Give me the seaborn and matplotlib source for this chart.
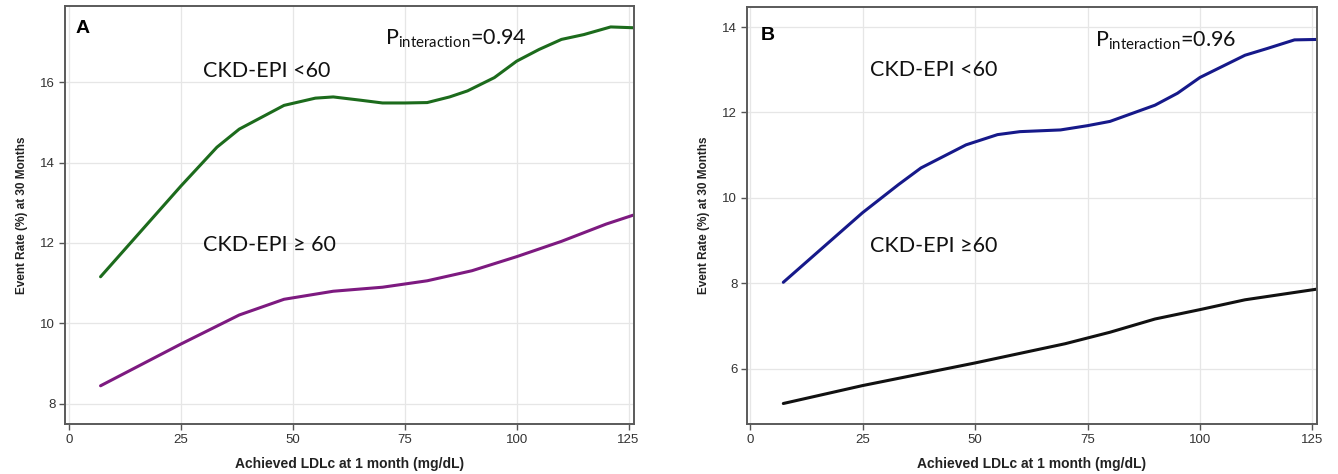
import matplotlib
matplotlib.use("Agg")
import matplotlib.pyplot as plt
import seaborn as sns
import pandas as pd

# ---- data ----
ldl_a_low = [7, 25, 33, 38, 48, 55, 59, 65, 70, 75, 80, 85, 89, 95, 100, 105, 110, 115, 121, 126]
rate_a_low = [11.16, 13.42, 14.38, 14.83, 15.42, 15.60, 15.63, 15.55, 15.48, 15.48, 15.49, 15.63,
              15.78, 16.11, 16.52, 16.81, 17.06, 17.18, 17.37, 17.35]
ldl_a_high = [7, 25, 38, 48, 59, 70, 80, 90, 100, 110, 120, 126]
rate_a_high = [8.45, 9.49, 10.21, 10.60, 10.80, 10.90, 11.06, 11.31, 11.66, 12.04, 12.47, 12.69]

ldl_b_low = [7.4, 25, 33, 38, 48, 55, 60, 69, 75, 80, 90, 95, 100, 110, 115, 121, 126]
rate_b_low = [8.02, 9.65, 10.31, 10.70, 11.24, 11.48, 11.55, 11.59, 11.69, 11.79, 12.17, 12.45, 12.82,
              13.34, 13.50, 13.70, 13.71]
ldl_b_high = [7.4, 25, 50, 70, 80, 90, 100, 110, 126]
rate_b_high = [5.18, 5.60, 6.13, 6.58, 6.85, 7.16, 7.38, 7.61, 7.86]

x_ticks = [0, 25, 50, 75, 100, 125]
a_yticks = [8, 10, 12, 14, 16]
b_yticks = [6, 8, 10, 12, 14]
group_labels = ["CKD-EPI <60", "CKD-EPI \u2265 60"]
b_group_labels = ["CKD-EPI <60", "CKD-EPI \u226560"]

df_a = pd.DataFrame({
    "ldl": ldl_a_low + ldl_a_high,
    "rate": rate_a_low + rate_a_high,
    "group": [group_labels[0]] * len(ldl_a_low) + [group_labels[1]] * len(ldl_a_high),
})
df_b = pd.DataFrame({
    "ldl": ldl_b_low + ldl_b_high,
    "rate": rate_b_low + rate_b_high,
    "group": [b_group_labels[0]] * len(ldl_b_low) + [b_group_labels[1]] * len(ldl_b_high),
})

sns.set_theme(style="whitegrid")
plt.rcParams["font.family"] = ["Liberation Sans", "DejaVu Sans"]
plt.rcParams["mathtext.fontset"] = "custom"
plt.rcParams["mathtext.rm"] = "Lato"
plt.rcParams["mathtext.it"] = "Lato:italic"

fig = plt.figure(figsize=(13.38, 4.74), dpi=100)
ax_a = fig.add_axes([0.0486, 0.1055, 0.4252, 0.8818])
ax_b = fig.add_axes([0.5583, 0.1055, 0.4260, 0.8797])

sns.lineplot(data=df_a, x="ldl", y="rate", hue="group",
             palette={group_labels[0]: "#1c6b1c", group_labels[1]: "#7d1a80"},
             linewidth=2.2, legend=False, ax=ax_a)
sns.lineplot(data=df_b, x="ldl", y="rate", hue="group",
             palette={b_group_labels[0]: "#16198a", b_group_labels[1]: "#111111"},
             linewidth=2.2, legend=False, ax=ax_b)

ax_a.set_xlim(-0.94, 126.2)
ax_a.set_ylim(7.5, 17.89)
ax_b.set_xlim(-0.67, 126.0)
ax_b.set_ylim(4.70, 14.47)

for ax, yt in ((ax_a, a_yticks), (ax_b, b_yticks)):
    ax.set_xticks(x_ticks)
    ax.set_yticks(yt)
    ax.set_xticklabels([str(t) for t in x_ticks])
    ax.set_yticklabels([str(t) for t in yt])
    ax.grid(True, color="#e6e6e6", linewidth=0.9)
    ax.set_facecolor("white")
    for s in ax.spines.values():
        s.set_color("#5a5a5a")
        s.set_linewidth(1.4)
    ax.tick_params(axis="both", direction="out", length=4, width=1, color="#555555",
                   labelsize=9.5, labelcolor="#333333", pad=3,
                   bottom=True, left=True)
    ax.set_xlabel("Achieved LDLc at 1 month (mg/dL)", fontsize=10, fontweight="bold",
                  color="#222222", labelpad=8)
    ax.set_ylabel("Event Rate (%) at 30 Months", fontsize=8.5, fontweight="bold",
                  color="#222222", labelpad=9)

ann_font = ["Lato", "DejaVu Sans"]
# Panel A annotations
ax_a.text(1.5, 17.22, "A", fontsize=14, fontweight="bold", family=["Liberation Sans"], color="black")
ax_a.text(70.5, 16.92, r"$\mathrm{P_{interaction}}$=0.94", fontsize=15.5, family=ann_font,
          va="baseline", color="#111111")
ax_a.text(29.9, 16.12, group_labels[0], fontsize=15.5, family=ann_font, va="baseline", color="#111111")
ax_a.text(29.9, 11.80, group_labels[1], fontsize=15.5, family=ann_font, va="baseline", color="#111111")

# Panel B annotations
ax_b.text(2.4, 13.70, "B", fontsize=14, fontweight="bold", family=["Liberation Sans"], color="black")
ax_b.text(76.7, 13.55, r"$\mathrm{P_{interaction}}$=0.96", fontsize=15.5, family=ann_font,
          va="baseline", color="#111111")
ax_b.text(26.7, 12.85, b_group_labels[0], fontsize=15.5, family=ann_font, va="baseline", color="#111111")
ax_b.text(26.7, 8.73, b_group_labels[1], fontsize=15.5, family=ann_font, va="baseline", color="#111111")

fig.savefig("out.png", dpi=100, facecolor="white")
